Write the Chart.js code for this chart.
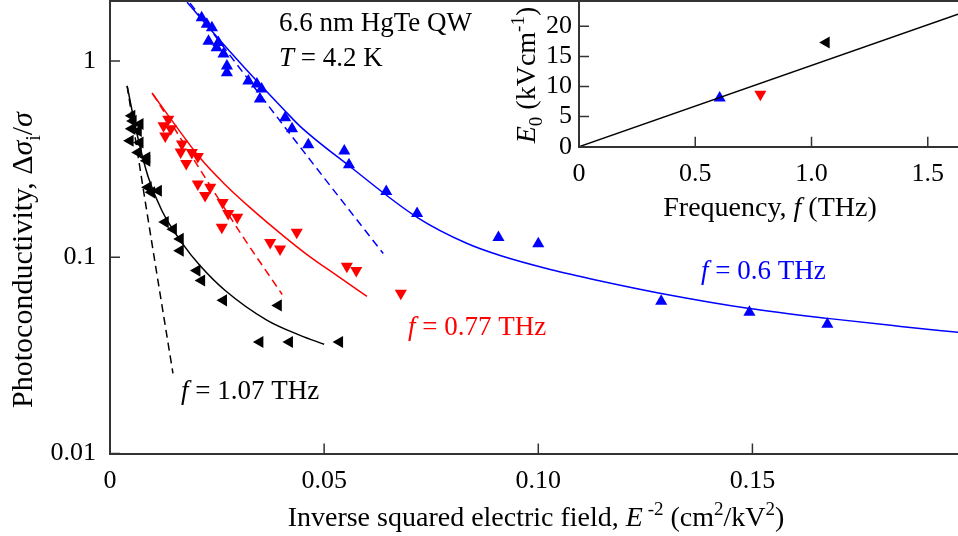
<!DOCTYPE html>
<html>
<head>
<meta charset="utf-8">
<script src="https://cdn.jsdelivr.net/npm/chart.js@4.4.1/dist/chart.umd.min.js"></script>
<style>
  html, body { margin: 0; padding: 0; background: #fff; }
  #wrap { position: relative; width: 958px; height: 536px; }
  #main { position: absolute; left: 0; top: 0; }
  #inset { position: absolute; left: 500px; top: 0; }
</style>
</head>
<body>
<div id="wrap">
  <canvas id="main" width="958" height="536"></canvas>
  <canvas id="inset" width="458" height="230"></canvas>
</div>
<script>
// ---- data ----
// f = 0.6 THz (blue, up triangles)
const blueX = [0.0214, 0.0226, 0.0238, 0.0230, 0.0253, 0.0249, 0.0265, 0.0273, 0.0273, 0.0323, 0.0343, 0.0354, 0.0350,
               0.0409, 0.0425, 0.0463, 0.0547, 0.0558, 0.0645, 0.0717, 0.0907, 0.1000, 0.1287, 0.1493, 0.1675];
const blueY = [1.66, 1.54, 1.475, 1.26, 1.24, 1.167, 1.084, 0.942, 0.871, 0.790, 0.763, 0.720, 0.640,
               0.514, 0.451, 0.374, 0.348, 0.296, 0.216, 0.167, 0.126, 0.117, 0.0596, 0.0524, 0.0455];
const blueFitX = [0.0180, 0.0252, 0.0332, 0.0409, 0.0444, 0.0561, 0.0717, 0.0834, 0.0911, 0.1028, 0.1145, 0.1287, 0.1493, 0.1675, 0.1846, 0.1981];
const blueFitY = [1.99, 1.31, 0.838, 0.556, 0.464, 0.289, 0.1597, 0.1174, 0.1020, 0.0866, 0.0757, 0.0654, 0.0548, 0.0488, 0.0444, 0.0414];
const blueDashX = [0.0187, 0.0451, 0.0638];
const blueDashY = [1.97, 0.348, 0.1044];

// f = 0.77 THz (red, down triangles)
const redX = [0.0136, 0.0125, 0.0142, 0.0129, 0.0168, 0.0165, 0.0191, 0.0205, 0.0178, 0.0205, 0.0234, 0.0222,
              0.0263, 0.0276, 0.0297, 0.0261, 0.0436, 0.0374, 0.0397, 0.0553, 0.0575, 0.0679];
const redY = [0.505, 0.467, 0.452, 0.415, 0.377, 0.344, 0.342, 0.326, 0.300, 0.236, 0.227, 0.206,
              0.190, 0.167, 0.160, 0.142, 0.134, 0.119, 0.110, 0.090, 0.0855, 0.0656];
const redFitX = [0.0098, 0.0152, 0.0210, 0.0269, 0.0327, 0.0404, 0.0460, 0.0526, 0.0600];
const redFitY = [0.687, 0.4724, 0.3211, 0.2341, 0.1789, 0.1289, 0.1032, 0.0817, 0.0632];
const redDashX = [0.0100, 0.0304, 0.0402];
const redDashY = [0.679, 0.1335, 0.0646];

// f = 1.07 THz (black, left triangles)
const blackX = [0.0051, 0.0054, 0.0070, 0.0051, 0.0066, 0.0047, 0.0070, 0.0066, 0.0086, 0.0086, 0.0089, 0.0113,
                0.0097, 0.0129, 0.0148, 0.0164, 0.0164, 0.0203, 0.0214, 0.0265, 0.0393, 0.0350, 0.0419, 0.0536];
const blackY = [0.525, 0.495, 0.477, 0.451, 0.440, 0.392, 0.384, 0.342, 0.322, 0.310, 0.227, 0.218,
                0.214, 0.151, 0.139, 0.124, 0.108, 0.0855, 0.0761, 0.0603, 0.0568, 0.0370, 0.0370, 0.0370];
const blackFitX = [0.0040, 0.0063, 0.0089, 0.0121, 0.0171, 0.0210, 0.0269, 0.0367, 0.0444, 0.0500];
const blackFitY = [0.746, 0.425, 0.257, 0.173, 0.116, 0.0908, 0.0677, 0.0477, 0.0400, 0.0360];
const blackDashX = [0.0040, 0.0082, 0.0147];
const blackDashY = [0.746, 0.194, 0.0256];

// inset: E0 vs frequency
const insetFreq = [0.605, 0.78, 1.063];
const insetE0 = [8.1, 8.7, 17.3];
const insetFitX = [0, 1.63];
const insetFitY = [0, 22.0];

const mainYTicks = [0.01, 0.1, 1];
const mainXTicks = [0, 0.05, 0.10, 0.15];
const insetXTicks = [0, 0.5, 1.0, 1.5];
const insetYTicks = [0, 5, 10, 15, 20];

const FONT = '"Liberation Serif", "Times New Roman", serif';
const BLUE = '#0000ff', RED = '#ff0000', BLACK = '#000000';

function pts(xs, ys) { return xs.map((x, i) => ({ x: x, y: ys[i] })); }

function marks(xs, ys, color, rot) {
  return { data: pts(xs, ys), showLine: false, pointStyle: 'triangle', rotation: rot, pointRadius: 7,
           backgroundColor: color, borderColor: color, borderWidth: 0 };
}
function curve(xs, ys, color, dashed) {
  return { data: pts(xs, ys), showLine: true, pointRadius: 0, borderColor: color, borderWidth: 1.5,
           borderDash: dashed ? [8, 5] : [], cubicInterpolationMode: 'monotone', fill: false };
}

// draws a line of text made of parts (italic, sub/superscript)
function rich(ctx, parts, x, y, size, color, align, rotate) {
  ctx.save();
  ctx.translate(x, y);
  if (rotate) ctx.rotate(-Math.PI / 2);
  ctx.fillStyle = color;
  ctx.textBaseline = 'alphabetic';
  ctx.textAlign = 'left';
  let w = 0;
  const fonts = parts.map(p => (p.i ? 'italic ' : '') + Math.round(p.s ? size * 0.68 : size) + 'px ' + FONT);
  parts.forEach((p, k) => { ctx.font = fonts[k]; w += ctx.measureText(p.t).width; });
  let cx = align === 'center' ? -w / 2 : 0;
  parts.forEach((p, k) => {
    ctx.font = fonts[k];
    ctx.fillText(p.t, cx, (p.dy || 0) * size);
    cx += ctx.measureText(p.t).width;
  });
  ctx.restore();
}

function inwardTicks(chart) {
  const ctx = chart.ctx, a = chart.chartArea;
  const sx = chart.scales.x, sy = chart.scales.y;
  ctx.save();
  ctx.strokeStyle = '#333';
  ctx.lineWidth = 1.5;
  ctx.beginPath();
  sx.ticks.forEach(t => { const p = sx.getPixelForValue(t.value); ctx.moveTo(p, a.bottom); ctx.lineTo(p, a.bottom - 10); });
  sy.ticks.forEach(t => { const p = sy.getPixelForValue(t.value); ctx.moveTo(a.left, p); ctx.lineTo(a.left + 10, p); });
  ctx.stroke();
  ctx.lineWidth = 2;
  ctx.beginPath();
  ctx.moveTo(a.left, a.top); ctx.lineTo(a.right, a.top);
  ctx.stroke();
  ctx.restore();
}

// fixed axis box sizes, no extra label padding
function fixBox(size) {
  return function (s) {
    if (s.isHorizontal()) s.height = size; else s.width = size;
    s.paddingTop = 0; s.paddingBottom = 0; s.paddingLeft = 0; s.paddingRight = 0;
  };
}

const mainText = {
  id: 'mainText',
  afterDraw(chart) {
    inwardTicks(chart);
    const ctx = chart.ctx;
    rich(ctx, [{ t: 'Photoconductivity, \u0394' }, { t: '\u03c3', i: 1 }, { t: 'i', s: 1, dy: 0.25 }, { t: '/' }, { t: '\u03c3', i: 1 }],
         32, 260, 30, BLACK, 'center', true);
    rich(ctx, [{ t: 'Inverse squared electric field, ' }, { t: 'E', i: 1 }, { t: ' -2', s: 1, dy: -0.4 }, { t: ' (cm' },
               { t: '2', s: 1, dy: -0.4 }, { t: '/kV' }, { t: '2', s: 1, dy: -0.4 }, { t: ')' }],
         536, 526, 27.7, BLACK, 'center', false);
    rich(ctx, [{ t: '6.6 nm HgTe QW' }], 279, 31, 26.6, BLACK, 'left', false);
    rich(ctx, [{ t: 'T', i: 1 }, { t: ' = 4.2 K' }], 279, 66, 26.6, BLACK, 'left', false);
    rich(ctx, [{ t: 'f', i: 1 }, { t: ' = 1.07 THz' }], 181, 399, 27, BLACK, 'left', false);
    rich(ctx, [{ t: 'f', i: 1 }, { t: ' = 0.77 THz' }], 408, 335, 27, RED, 'left', false);
    rich(ctx, [{ t: 'f', i: 1 }, { t: ' = 0.6 THz' }], 701, 279, 27, BLUE, 'left', false);
    // inset axis titles
    rich(ctx, [{ t: 'E', i: 1 }, { t: '0', s: 1, dy: 0.25 }, { t: ' (kVcm' }, { t: '-1', s: 1, dy: -0.4 }, { t: ')' }],
         535, 75, 28, BLACK, 'center', true);
    rich(ctx, [{ t: 'Frequency, ' }, { t: 'f', i: 1 }, { t: ' (THz)' }], 770, 216, 28.4, BLACK, 'center', false);
  }
};

const insetTicks = { id: 'insetTicks', afterDraw(chart) { inwardTicks(chart); } };

const tickFont = { family: FONT, size: 26 };

new Chart(document.getElementById('main'), {
  type: 'scatter',
  data: {
    datasets: [
      curve(blueFitX, blueFitY, BLUE, false),
      curve(blueDashX, blueDashY, BLUE, true),
      curve(redFitX, redFitY, RED, false),
      curve(redDashX, redDashY, RED, true),
      curve(blackFitX, blackFitY, BLACK, false),
      curve(blackDashX, blackDashY, BLACK, true),
      marks(blueX, blueY, BLUE, 0),
      marks(redX, redY, RED, 180),
      marks(blackX, blackY, BLACK, 270)
    ]
  },
  options: {
    responsive: false,
    animation: false,
    layout: { autoPadding: false, padding: { top: 1, right: 0, left: 0, bottom: 0 } },
    plugins: { legend: { display: false }, tooltip: { enabled: false } },
    scales: {
      x: {
        type: 'linear', min: 0, max: 0.198,
        afterFit: fixBox(82.5),
        afterBuildTicks(s) { s.ticks = mainXTicks.map(v => ({ value: v })); },
        grid: { display: false, drawTicks: false },
        border: { display: true, color: '#333', width: 2 },
        ticks: { font: tickFont, color: BLACK, padding: 12, maxRotation: 0,
                 callback: v => (v === 0 ? '0' : v.toFixed(2)) }
      },
      y: {
        type: 'logarithmic', min: 0.01, max: 2.02,
        afterFit: fixBox(110),
        afterBuildTicks(s) { s.ticks = mainYTicks.map(v => ({ value: v })); },
        grid: { display: false, drawTicks: false },
        border: { display: true, color: '#333', width: 2 },
        ticks: { font: tickFont, color: BLACK, padding: 14,
                 callback: v => (v >= 1 ? '1' : String(v)) }
      }
    }
  },
  plugins: [mainText]
});

new Chart(document.getElementById('inset'), {
  type: 'scatter',
  data: {
    datasets: [
      curve(insetFitX, insetFitY, BLACK, false),
      marks([insetFreq[0]], [insetE0[0]], BLUE, 0),
      marks([insetFreq[1]], [insetE0[1]], RED, 180),
      marks([insetFreq[2]], [insetE0[2]], BLACK, 270)
    ]
  },
  options: {
    responsive: false,
    animation: false,
    layout: { autoPadding: false, padding: { top: 1, right: 0, left: 0, bottom: 0 } },
    plugins: { legend: { display: false }, tooltip: { enabled: false } },
    scales: {
      x: {
        type: 'linear', min: 0, max: 1.63,
        afterFit: fixBox(83.3),
        afterBuildTicks(s) { s.ticks = insetXTicks.map(v => ({ value: v })); },
        grid: { display: false, drawTicks: false },
        border: { display: true, color: '#333', width: 2 },
        ticks: { font: tickFont, color: BLACK, padding: 12, maxRotation: 0,
                 callback: v => (v === 0 ? '0' : v.toFixed(1)) }
      },
      y: {
        type: 'linear', min: 0, max: 24.2,
        afterFit: fixBox(79),
        afterBuildTicks(s) { s.ticks = insetYTicks.map(v => ({ value: v })); },
        grid: { display: false, drawTicks: false },
        border: { display: true, color: '#333', width: 2 },
        ticks: { font: tickFont, color: BLACK, padding: 7 }
      }
    }
  },
  plugins: [insetTicks]
});
</script>
</body>
</html>
